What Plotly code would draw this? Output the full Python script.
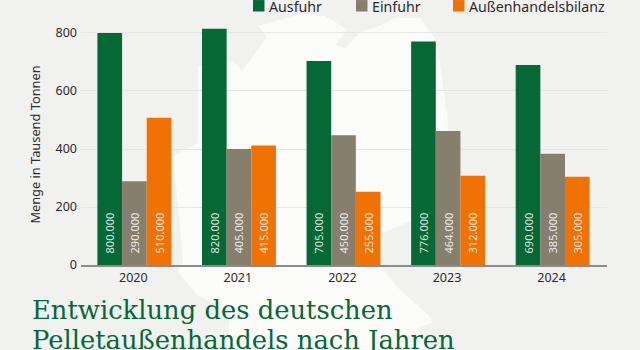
import plotly.graph_objects as go

years = ["2020", "2021", "2022", "2023", "2024"]
ausfuhr = [800, 815, 703, 771, 690]
einfuhr = [289, 400, 447, 462, 384]
bilanz = [508, 412, 253, 308, 304]
ausfuhr_labels = ["800.000", "820.000", "705.000", "776.000", "690.000"]
einfuhr_labels = ["290.000", "405.000", "450.000", "464.000", "385.000"]
bilanz_labels = ["510.000", "415.000", "255.000", "312.000", "305.000"]
series_names = ["Ausfuhr", "Einfuhr", "Außenhandelsbilanz"]
colors = ["#056835", "#877f6e", "#f07204"]
title_lines = ["Entwicklung des deutschen", "Pelletaußenhandels nach Jahren"]

W, H = 640, 350
FONT = "Noto Sans"
L, R, T, B = 81, 33, 24, 84.7
PW, PH = W - L - R, H - T - B


def px(x):
    return (x - L) / PW


def py(y):
    return (H - B - y) / PH


# Pale map silhouette behind the chart (page decoration, pixel coordinates)
map_outline = [(198, 114), (198, 66), (233, 61), (242, 71), (257, 51), (267, 37), (258, 26), (283, 19), (303, 14),
               (325, 16), (340, 25), (347, 30), (335, 45), (345, 48), (360, 32), (377, 27), (395, 18), (420, 18),
               (437, 41), (447, 114), (448, 133), (440, 190), (410, 222), (383, 233), (382, 268), (397, 287),
               (430, 317), (432, 323), (417, 330), (433, 350), (227, 350), (230, 312), (197, 295), (178, 272),
               (183, 262), (180, 225), (173, 157), (198, 143)]
path = "M" + " L".join(f"{px(x):.4f},{py(y):.4f}" for x, y in map_outline) + " Z"

unit = PW / 5.03
bar_w = 24.65 / unit
fig = go.Figure()
for i, (name, vals, labs, col) in enumerate(zip(series_names, [ausfuhr, einfuhr, bilanz],
                                                [ausfuhr_labels, einfuhr_labels, bilanz_labels], colors)):
    fig.add_bar(x=years, y=vals, name=name, marker=dict(color=col, line=dict(width=0)),
                width=bar_w, offset=(i - 1.5) * bar_w + 1.1 / unit,
                text=["\u00a0\u00a0\u00a0" + l for l in labs], textposition="inside",
                insidetextanchor="start", textangle=-90, constraintext="none",
                insidetextfont=dict(family=FONT, size=11, color="rgba(255,255,255,0.85)"),
                hoverinfo="skip")

shapes = [dict(type="path", xref="paper", yref="paper", path=path, fillcolor="#fbfbfa",
               line=dict(width=0), layer="below")]
annotations = []
# Legend
for name, col, sx, tx in zip(series_names, colors, [253, 356, 453], [266.5, 369.5, 467]):
    shapes.append(dict(type="rect", xref="paper", yref="paper", x0=px(sx), x1=px(sx + 11.5),
                       y0=py(11.5), y1=py(0), fillcolor=col, line=dict(width=0)))
    annotations.append(dict(text=name, xref="paper", yref="paper", x=px(tx), y=py(6), xanchor="left",
                            yanchor="middle", showarrow=False, font=dict(family=FONT, size=14.2, color="#2b2b2b")))
# Title
for line, yb in zip(title_lines, [310, 340]):
    annotations.append(dict(text=line, xref="paper", yref="paper", x=px(30), y=py(yb), xanchor="left",
                            yanchor="middle", showarrow=False, font=dict(family="DejaVu Serif", size=25.8, color="#056835")))

fig.update_layout(
    width=W, height=H, barmode="overlay", showlegend=False,
    paper_bgcolor="#f1f2f0", plot_bgcolor="rgba(0,0,0,0)",
    margin=dict(l=L, r=R, t=T, b=B, pad=0), shapes=shapes, annotations=annotations,
    font=dict(family=FONT, size=12.5, color="#2b2b2b"),
    xaxis=dict(type="category", range=[-0.5, 4.53], showgrid=False, ticks="", showline=True,
               linecolor="#8c8c8c", linewidth=1.5, tickfont=dict(size=12.5, color="#2b2b2b")),
    yaxis=dict(range=[0, 831], tickvals=[0, 200, 400, 600, 800], gridcolor="#e6e7e5", gridwidth=1,
               zeroline=False, ticks="", ticklabelstandoff=3, tickfont=dict(size=12.5, color="#2b2b2b"),
               title=dict(text="Menge in Tausend Tonnen", standoff=12, font=dict(size=12.8, color="#2b2b2b"))),
)
fig.write_html("out.html", config=dict(displayModeBar=False), post_script="document.body.style.margin='0';document.body.style.overflow='hidden';")
